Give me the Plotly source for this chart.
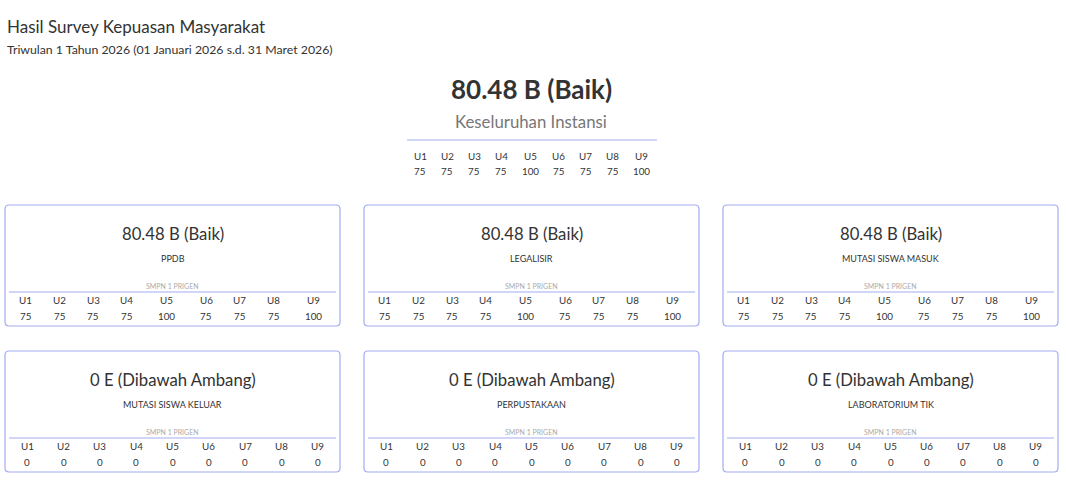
import plotly.graph_objects as go

# ---------------- data ----------------
title_text = "Hasil Survey Kepuasan Masyarakat"
subtitle_text = "Triwulan 1 Tahun 2026 (01 Januari 2026 s.d. 31 Maret 2026)"
unsur_labels = ["U1", "U2", "U3", "U4", "U5", "U6", "U7", "U8", "U9"]

overall_score = "80.48"
overall_grade = "B (Baik)"
overall_label = "Keseluruhan Instansi"
overall_values = [75, 75, 75, 75, 100, 75, 75, 75, 100]

instansi = "SMPN 1 PRIGEN"
layanan_names = ["PPDB", "LEGALISIR", "MUTASI SISWA MASUK",
                 "MUTASI SISWA KELUAR", "PERPUSTAKAAN", "LABORATORIUM TIK"]
layanan_scores = ["80.48", "80.48", "80.48", "0", "0", "0"]
layanan_grades = ["B (Baik)", "B (Baik)", "B (Baik)",
                  "E (Dibawah Ambang)", "E (Dibawah Ambang)", "E (Dibawah Ambang)"]
layanan_values = [
    [75, 75, 75, 75, 100, 75, 75, 75, 100],
    [75, 75, 75, 75, 100, 75, 75, 75, 100],
    [75, 75, 75, 75, 100, 75, 75, 75, 100],
    [0, 0, 0, 0, 0, 0, 0, 0, 0],
    [0, 0, 0, 0, 0, 0, 0, 0, 0],
    [0, 0, 0, 0, 0, 0, 0, 0, 0],
]

# ---------------- style / layout ----------------
W, H = 1066, 483
FONT = "Lato"
DARK = "#333333"
ACCENT = "#a3acf2"
CARD_W, CARD_H = 335, 121
CARD_X = [5, 364, 723]
CARD_Y = [205, 351]

fig = go.Figure()
annotations = []
shapes = []


def add_text(x, y, text, size, color=DARK, xanchor="center", bold=False):
    annotations.append(dict(
        x=x, y=y, xref="x", yref="y", text=f"<b>{text}</b>" if bold else text,
        showarrow=False, xanchor=xanchor, yanchor="middle",
        font=dict(family=FONT, size=size, color=color)))


def col_centers(values, left, width, pad):
    weights = [max(2, len(str(v))) + pad for v in values]
    total = sum(weights)
    centers, acc = [], left
    for w in weights:
        cw = width * w / total
        centers.append(acc + cw / 2)
        acc += cw
    return centers


def add_table(values, left, width, y_line, dy_head, dy_val, pad, size):
    shapes.append(dict(type="line", xref="x", yref="y", x0=left, x1=left + width,
                       y0=y_line, y1=y_line, line=dict(color=ACCENT, width=1.2)))
    for cx, lab, v in zip(col_centers(values, left, width, pad), unsur_labels, values):
        add_text(cx, y_line + dy_head, lab, size)
        add_text(cx, y_line + dy_val, str(v), size)


# header
add_text(5, 26, title_text, 17, xanchor="left")
add_text(5, 49, subtitle_text, 12.3, xanchor="left")
add_text(531, 89, f"{overall_score} {overall_grade}", 26, bold=True)
add_text(531, 121, overall_label, 16.8, color="#777777")
add_table(overall_values, 407, 250, 140, 16, 31, 4.8, 9.8)

# cards
for i, (name, score, grade, vals) in enumerate(
        zip(layanan_names, layanan_scores, layanan_grades, layanan_values)):
    x0 = CARD_X[i % 3]
    y0 = CARD_Y[i // 3]
    r = 4
    x1, y1 = x0 + CARD_W, y0 + CARD_H
    path = (f"M {x0+r},{y0} L {x1-r},{y0} Q {x1},{y0} {x1},{y0+r} "
            f"L {x1},{y1-r} Q {x1},{y1} {x1-r},{y1} L {x0+r},{y1} "
            f"Q {x0},{y1} {x0},{y1-r} L {x0},{y0+r} Q {x0},{y0} {x0+r},{y0} Z")
    shapes.append(dict(type="path", xref="x", yref="y", path=path,
                       line=dict(color=ACCENT, width=1.2), fillcolor="rgba(0,0,0,0)"))
    cx = x0 + CARD_W / 2
    add_text(cx, y0 + 29, f"{score} {grade}", 16.7)
    add_text(cx, y0 + 53, name, 9)
    add_text(cx, y0 + 81, instansi, 7, color="#aaaaaa")
    add_table(vals, x0 + 4, CARD_W - 8, y0 + 87, 8, 24, 0.83, 9.8)

fig.update_layout(
    width=W, height=H, autosize=False,
    margin=dict(l=0, r=0, t=0, b=0),
    paper_bgcolor="white", plot_bgcolor="white",
    xaxis=dict(range=[0, W], visible=False, fixedrange=True),
    yaxis=dict(range=[H, 0], visible=False, fixedrange=True),
    annotations=annotations, shapes=shapes, showlegend=False,
)

fig.write_html("out.html", config={"displayModeBar": False},
               post_script="document.body.style.margin='0';"
                           "document.body.style.overflow='hidden';")
